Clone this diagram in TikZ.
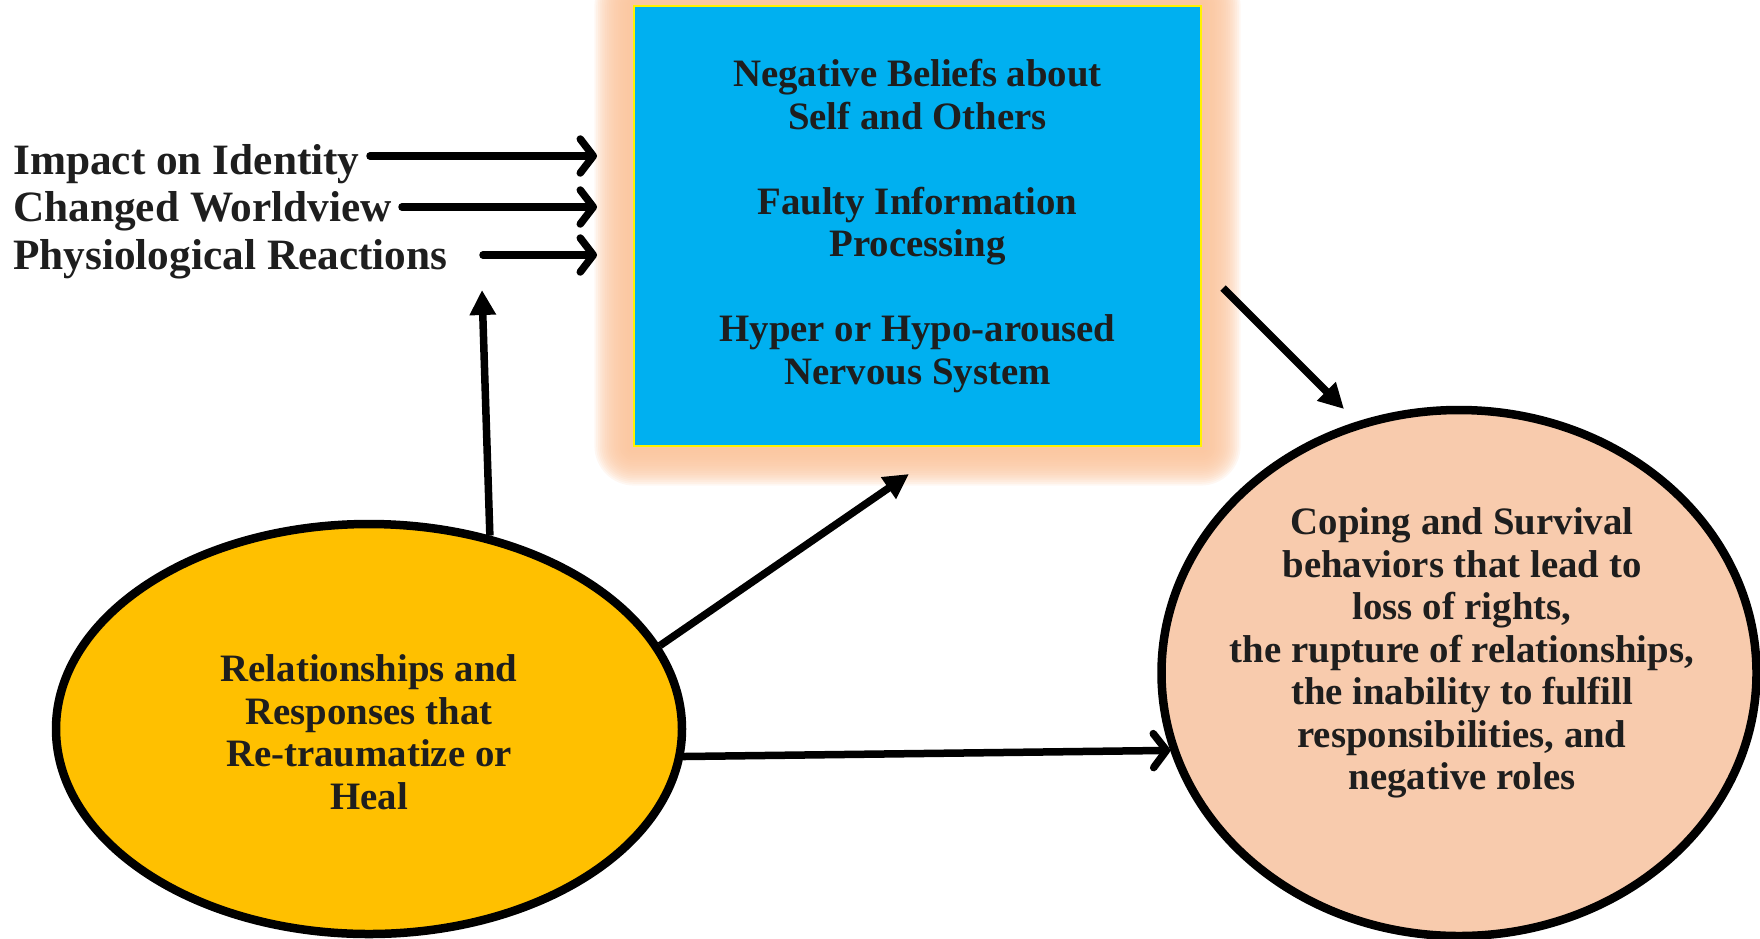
\documentclass[tikz,border=0pt]{standalone}
\usepackage{fontspec}
\setmainfont{Liberation Serif}
\usetikzlibrary{arrows.meta,shapes.geometric,calc}
\definecolor{boxblue}{HTML}{00B0F0}
\definecolor{gold}{HTML}{FFC000}
\definecolor{peach}{HTML}{F8CBAD}
\definecolor{glow}{HTML}{FBC49C}
\definecolor{ink}{HTML}{1E1E1E}
\tikzset{
  lbl/.style={anchor=base west, inner sep=0pt, text=ink, font=\bfseries\fontsize{43.3}{48}\selectfont},
  txt/.style={align=center, inner sep=0pt, text=ink, font=\bfseries\fontsize{38.8}{42.5}\selectfont},
  ell/.style={ellipse, draw=black, line width=8.5pt, inner sep=0pt},
  barb/.style={line width=7.5pt, line cap=round, -{Straight Barb[length=13pt,width=34pt,line cap=round,line join=round]}},
  tri/.style={line width=7.5pt, -{Triangle[length=25pt,width=25pt]}},
}
\begin{document}
\begin{tikzpicture}[x=1pt,y=-1pt]
\useasboundingbox (0,0) rectangle (1760,938);
% glow
\foreach \i in {1,...,22}{
  \fill[glow, opacity=0.13, rounded corners=\i*1.8pt] (634-\i*1.8,6-\i*1.8) rectangle (1201+\i*1.8,446+\i*1.8);
}
\node[draw=yellow, line width=1.5pt, fill=boxblue, minimum width=567pt, minimum height=440pt, inner sep=0pt] (box) at (917.5,226) {};
\node[txt] (boxtext) at (917.5,226) {Negative Beliefs about\\Self and Others\\[42.5pt]Faulty Information\\Processing\\[42.5pt]Hyper or Hypo-aroused\\Nervous System};

\node[lbl] (l1) at (13,174) {Impact on Identity};
\node[lbl] (l2) at (13,221) {Changed Worldview};
\node[lbl] (l3) at (13,269) {Physiological Reactions};

\node[ell, fill=gold, minimum width=626pt, minimum height=410pt] (rel) at (369,729) {};
\node[txt] (reltext) at (369,732) {Relationships and\\Responses that\\Re-traumatize or\\Heal};

\node[ell, fill=peach, minimum width=595pt, minimum height=526pt] (cope) at (1459,673) {};
\node[txt] (copetext) at (1462,653) {Coping and Survival\\behaviors that lead to\\loss of rights,\\the rupture of relationships,\\the inability to fulfill\\responsibilities, and\\negative roles};

\coordinate (e1) at (597,156);
\coordinate (e2) at (597,207);
\coordinate (e3) at (597,255);
\coordinate (s1) at (370,156);
\coordinate (s2) at (402,207);
\coordinate (s3) at (483,255);
\draw[barb] (s1) -- (e1);
\draw[barb] (s2) -- (e2);
\draw[barb] (s3) -- (e3);

\coordinate (up) at (482,290);
\draw[tri] (rel.58.6) -- (up);
\coordinate (bx) at (909,474);
\draw[tri] (rel.16.6) -- (bx);
\draw[barb] (rel.-5.7) -- (cope.195.8);
\coordinate (bs) at (1223,288);
\coordinate (ce) at (1344,409);
\draw[tri] (bs) -- (ce);
\end{tikzpicture}
\end{document}
